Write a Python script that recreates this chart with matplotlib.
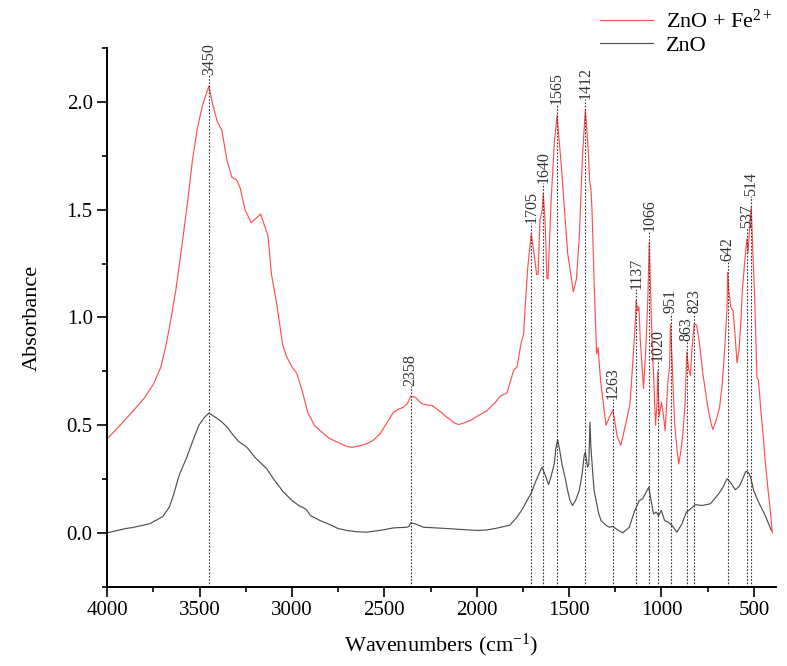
import numpy as np
import matplotlib
matplotlib.use("Agg")
import matplotlib.pyplot as plt

# ZnO + Fe2+ spectrum (wavenumber, absorbance)
red_wn = [4000, 3930, 3861, 3800, 3750, 3710, 3685, 3660, 3630, 3595, 3566, 3539,
          3512, 3486, 3450, 3432, 3405, 3380, 3352, 3325, 3300, 3280, 3254, 3221,
          3195, 3170, 3150, 3130, 3111, 3084, 3050, 3030, 3000, 2974, 2945, 2915,
          2880, 2848, 2800, 2776, 2740, 2700, 2668, 2630, 2595, 2560, 2523, 2480,
          2450, 2420, 2396, 2375, 2358, 2333, 2310, 2297, 2260, 2242, 2200, 2161,
          2120, 2098, 2070, 2034, 1990, 1944, 1900, 1872, 1836, 1800, 1782, 1760,
          1746, 1737, 1725, 1717, 1705, 1690, 1676, 1668, 1658, 1645, 1640, 1630,
          1620, 1614, 1598, 1580, 1565, 1540, 1508, 1477, 1460, 1445, 1427, 1412,
          1398, 1388, 1382, 1376, 1362, 1351, 1343, 1330, 1300, 1285, 1263, 1240, 1220,
          1195, 1170, 1150, 1140, 1137, 1128, 1122, 1115, 1097, 1085, 1074, 1066,
          1055, 1032, 1024, 1020, 1012, 1000, 990, 980, 965, 956, 951, 940,
          929, 915, 906, 895, 884, 872, 863, 853, 843, 835, 823, 810,
          797, 776, 760, 749, 735, 722, 705, 685, 670, 655, 645, 642,
          635, 625, 612, 600, 591, 580, 570, 562, 545, 537, 531, 520,
          514, 505, 495, 483, 475, 460, 450, 440, 423, 410, 400]
red_abs = [0.437, 0.50, 0.565, 0.625, 0.69, 0.77, 0.86, 0.97, 1.12, 1.34, 1.53, 1.73,
           1.88, 1.98, 2.075, 2.00, 1.91, 1.87, 1.73, 1.65, 1.64, 1.60, 1.50, 1.44,
           1.46, 1.48, 1.43, 1.38, 1.20, 1.07, 0.87, 0.82, 0.77, 0.74, 0.66, 0.56,
           0.50, 0.475, 0.44, 0.43, 0.416, 0.40, 0.398, 0.405, 0.414, 0.43, 0.46, 0.52,
           0.561, 0.575, 0.584, 0.60, 0.634, 0.63, 0.61, 0.60, 0.592, 0.592, 0.565, 0.537,
           0.51, 0.503, 0.51, 0.522, 0.545, 0.568, 0.605, 0.635, 0.65, 0.755, 0.77, 0.88,
           0.925, 1.06, 1.22, 1.29, 1.39, 1.30, 1.20, 1.20, 1.45, 1.50, 1.575, 1.45,
           1.18, 1.18, 1.53, 1.81, 1.94, 1.68, 1.30, 1.12, 1.18, 1.37, 1.76, 1.963,
           1.80, 1.63, 1.60, 1.50, 1.10, 0.83, 0.86, 0.71, 0.50, 0.53, 0.57, 0.45, 0.406,
           0.50, 0.60, 0.86, 1.00, 1.08, 1.03, 1.05, 0.90, 0.67, 0.85, 1.08, 1.35,
           1.00, 0.50, 0.60, 0.75, 0.54, 0.607, 0.55, 0.475, 0.70, 0.77, 0.97, 0.75,
           0.51, 0.38, 0.32, 0.38, 0.46, 0.60, 0.84, 0.76, 0.73, 0.85, 0.97, 0.965,
           0.90, 0.74, 0.65, 0.585, 0.52, 0.48, 0.52, 0.584, 0.70, 0.89, 1.05, 1.21,
           1.12, 1.05, 1.03, 0.90, 0.79, 0.85, 0.98, 1.13, 1.30, 1.366, 1.30, 1.45,
           1.513, 1.30, 1.08, 0.72, 0.71, 0.55, 0.46, 0.35, 0.20, 0.10, 0.00]

# ZnO spectrum
blk_wn = [4000, 3900, 3861, 3771, 3700, 3664, 3640, 3611, 3570, 3540, 3504, 3475,
          3450, 3420, 3380, 3350, 3317, 3290, 3245, 3200, 3136, 3100, 3046, 3000,
          2960, 2935, 2920, 2900, 2848, 2800, 2750, 2703, 2650, 2595, 2520, 2450,
          2378, 2366, 2358, 2340, 2324, 2288, 2200, 2143, 2070, 1999, 1950, 1900,
          1850, 1820, 1782, 1752, 1728, 1707, 1680, 1665, 1647, 1630, 1611, 1595,
          1580, 1572, 1562, 1550, 1539, 1520, 1508, 1495, 1481, 1465, 1445, 1430,
          1418, 1412, 1400, 1393, 1387, 1382, 1373, 1365, 1354, 1340, 1327, 1300,
          1282, 1263, 1240, 1210, 1174, 1150, 1138, 1120, 1102, 1085, 1069, 1056,
          1043, 1028, 1016, 1001, 983, 961, 943, 916, 889, 865, 843, 816,
          780, 735, 690, 668, 645, 627, 600, 580, 568, 543, 530, 525,
          515, 501, 474, 438, 405]
blk_abs = [0.0, 0.02, 0.025, 0.042, 0.075, 0.12, 0.18, 0.267, 0.35, 0.42, 0.50, 0.535,
           0.556, 0.54, 0.515, 0.49, 0.452, 0.425, 0.398, 0.35, 0.297, 0.25, 0.189, 0.15,
           0.125, 0.115, 0.105, 0.08, 0.057, 0.04, 0.02, 0.011, 0.005, 0.003, 0.012, 0.023,
           0.026, 0.03, 0.046, 0.043, 0.039, 0.026, 0.022, 0.019, 0.015, 0.011, 0.013, 0.02,
           0.03, 0.036, 0.073, 0.111, 0.15, 0.181, 0.24, 0.27, 0.305, 0.27, 0.224, 0.27,
           0.321, 0.39, 0.432, 0.38, 0.321, 0.25, 0.197, 0.15, 0.127, 0.15, 0.197, 0.27,
           0.36, 0.375, 0.305, 0.32, 0.514, 0.40, 0.29, 0.20, 0.15, 0.09, 0.057, 0.035,
           0.026, 0.03, 0.015, 0.0, 0.026, 0.09, 0.115, 0.15, 0.158, 0.185, 0.212, 0.15,
           0.088, 0.096, 0.08, 0.104, 0.057, 0.049, 0.034, 0.003, 0.042, 0.096, 0.111, 0.131,
           0.127, 0.135, 0.181, 0.21, 0.251, 0.235, 0.20, 0.215, 0.235, 0.286, 0.28, 0.274,
           0.25, 0.197, 0.142, 0.08, 0.011]

# labelled peaks
peaks = [3450, 2358, 1705, 1640, 1565, 1412, 1263, 1137, 1066, 1020,
         951, 863, 823, 642, 537, 514]

plt.rcParams['font.family'] = ['Liberation Serif', 'DejaVu Serif']
plt.rcParams['mathtext.fontset'] = 'custom'
plt.rcParams['mathtext.rm'] = 'Liberation Serif'
plt.rcParams['mathtext.it'] = 'Liberation Serif:italic'

fig = plt.figure(figsize=(7.87, 6.66), dpi=100)
ax = fig.add_axes([0.1363, 0.1191, 0.8497, 0.8084])

ax.plot(red_wn, red_abs, color='#ff5050', lw=0.85, label='ZnO + Fe$^{2+}$')
ax.plot(blk_wn, blk_abs, color='#505050', lw=0.85, label='ZnO')

ymin, ymax = -0.25, 2.25
rw = np.array(red_wn)[::-1]
ra = np.array(red_abs)[::-1]
for p in peaks:
    top = np.interp(p, rw, ra) + 0.05
    ax.vlines(p, ymin, top, colors='#333333', linestyles=(0, (1.5, 1.5)), lw=0.8)
    ax.text(p, top, str(p), rotation=90, ha='center', va='bottom',
            fontsize=11.5, color='#333333')

ax.set_xlim(4000, 380)
ax.set_ylim(ymin, ymax)
ax.set_xticks([4000, 3500, 3000, 2500, 2000, 1500, 1000, 500])
ax.set_xticks(np.arange(3750, 400, -500), minor=True)
ax.set_yticks([0.0, 0.5, 1.0, 1.5, 2.0])
ax.set_yticks([-0.25, 0.25, 0.75, 1.25, 1.75, 2.25], minor=True)

for s in ['top', 'right']:
    ax.spines[s].set_visible(False)
for s in ['left', 'bottom']:
    ax.spines[s].set_linewidth(1.4)
ax.tick_params(which='major', length=7.5, width=1.2, labelsize=15, pad=3)
ax.tick_params(which='minor', length=3.8, width=1.2)

ax.set_xlabel('Wavenumbers (cm$^{-1}$)', fontsize=16, labelpad=8)
ax.set_ylabel('Absorbance', fontsize=16, labelpad=18)

fig.legend(loc='upper right', bbox_to_anchor=(1.008, 1.015), frameon=False,
           fontsize=16, handlelength=2.4, handletextpad=0.6, labelspacing=0.1)

fig.savefig('out.png', dpi=100)
